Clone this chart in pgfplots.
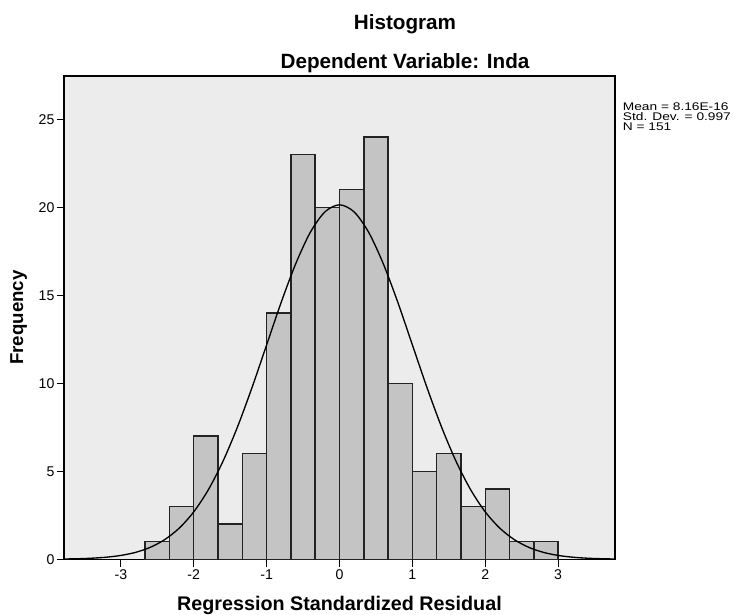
\documentclass[border=0pt]{standalone}
\usepackage{pgfplots}
\pgfplotsset{compat=1.18}
\usepackage{fontspec}
\setmainfont{Liberation Sans}
\usepackage{graphicx}
\definecolor{plotbg}{RGB}{236,236,236}
\definecolor{barfill}{RGB}{196,196,196}
\definecolor{bardraw}{RGB}{35,35,35}
\begin{document}
\begin{tikzpicture}
\useasboundingbox (0,0) rectangle (549.75pt,461.25pt);
\begin{axis}[
  at={(48pt,41.8pt)}, anchor=south west,
  scale only axis, width=413.25pt, height=362.45pt,
  xmin=-3.78, xmax=3.78, ymin=0, ymax=27.46,
  xtick={-3,-2,-1,0,1,2,3}, ytick={0,5,10,15,20,25},
  tick align=outside, tick pos=left,
  major tick length=5.5pt,
  axis line style={line width=1.1pt},
  every tick/.style={black, line width=0.9pt},
  axis background/.style={fill=plotbg},
  tick label style={font=\fontsize{10.6pt}{12pt}\selectfont},
  yticklabel style={inner sep=1.5pt},
  xticklabel style={inner sep=2pt},
  /pgf/number format/assume math mode=true,
]
\addplot[ybar, bar width=0.33333, fill=barfill, draw=bardraw, line width=1.1pt] coordinates {
(-2.5,1) (-2.16667,3) (-1.83333,7) (-1.5,2) (-1.16667,6) (-0.83333,14)
(-0.5,23) (-0.16667,20) (0.16667,21) (0.5,24) (0.83333,10) (1.16667,5)
(1.5,6) (1.83333,3) (2.16667,4) (2.5,1) (2.83333,1)
};
\addplot[black, line width=1pt, smooth] coordinates {
(-3.78,0.015) (-3.6,0.030) (-3.4,0.060) (-3.2,0.117) (-3.0,0.218) (-2.8,0.390)
(-2.6,0.672) (-2.4,1.111) (-2.2,1.765) (-2.0,2.693) (-1.8,3.947) (-1.6,5.557)
(-1.4,7.515) (-1.2,9.761) (-1.0,12.18) (-0.8,14.60) (-0.6,16.80) (-0.4,18.58)
(-0.2,19.74) (0,20.14) (0.2,19.74) (0.4,18.58) (0.6,16.80) (0.8,14.60)
(1.0,12.18) (1.2,9.761) (1.4,7.515) (1.6,5.557) (1.8,3.947) (2.0,2.693)
(2.2,1.765) (2.4,1.111) (2.6,0.672) (2.8,0.390) (3.0,0.218) (3.2,0.117)
(3.4,0.060) (3.6,0.030) (3.78,0.015)
};
\end{axis}
\node[anchor=base, font=\bfseries\fontsize{15.5pt}{18pt}\selectfont] at (303.75pt,439.3pt) {Histogram};
\node[anchor=base, font=\bfseries\fontsize{15.5pt}{18pt}\selectfont] at (303.75pt,410pt) {Dependent Variable: Inda};
\node[anchor=base, font=\bfseries\fontsize{14.8pt}{18pt}\selectfont] at (254.6pt,3.5pt) {Regression Standardized Residual};
\node[anchor=base, rotate=90, font=\bfseries\fontsize{14pt}{18pt}\selectfont] at (17.25pt,223.1pt) {Frequency};
\node[anchor=base west, inner sep=0pt] at (467pt,378pt) {\scalebox{1.24}[1]{\fontsize{8.3pt}{9pt}\selectfont Mean = 8.16E-16}};
\node[anchor=base west, inner sep=0pt] at (467pt,370.5pt) {\scalebox{1.24}[1]{\fontsize{8.3pt}{9pt}\selectfont Std. Dev. = 0.997}};
\node[anchor=base west, inner sep=0pt] at (467pt,363pt) {\scalebox{1.24}[1]{\fontsize{8.3pt}{9pt}\selectfont N = 151}};
\end{tikzpicture}
\end{document}
